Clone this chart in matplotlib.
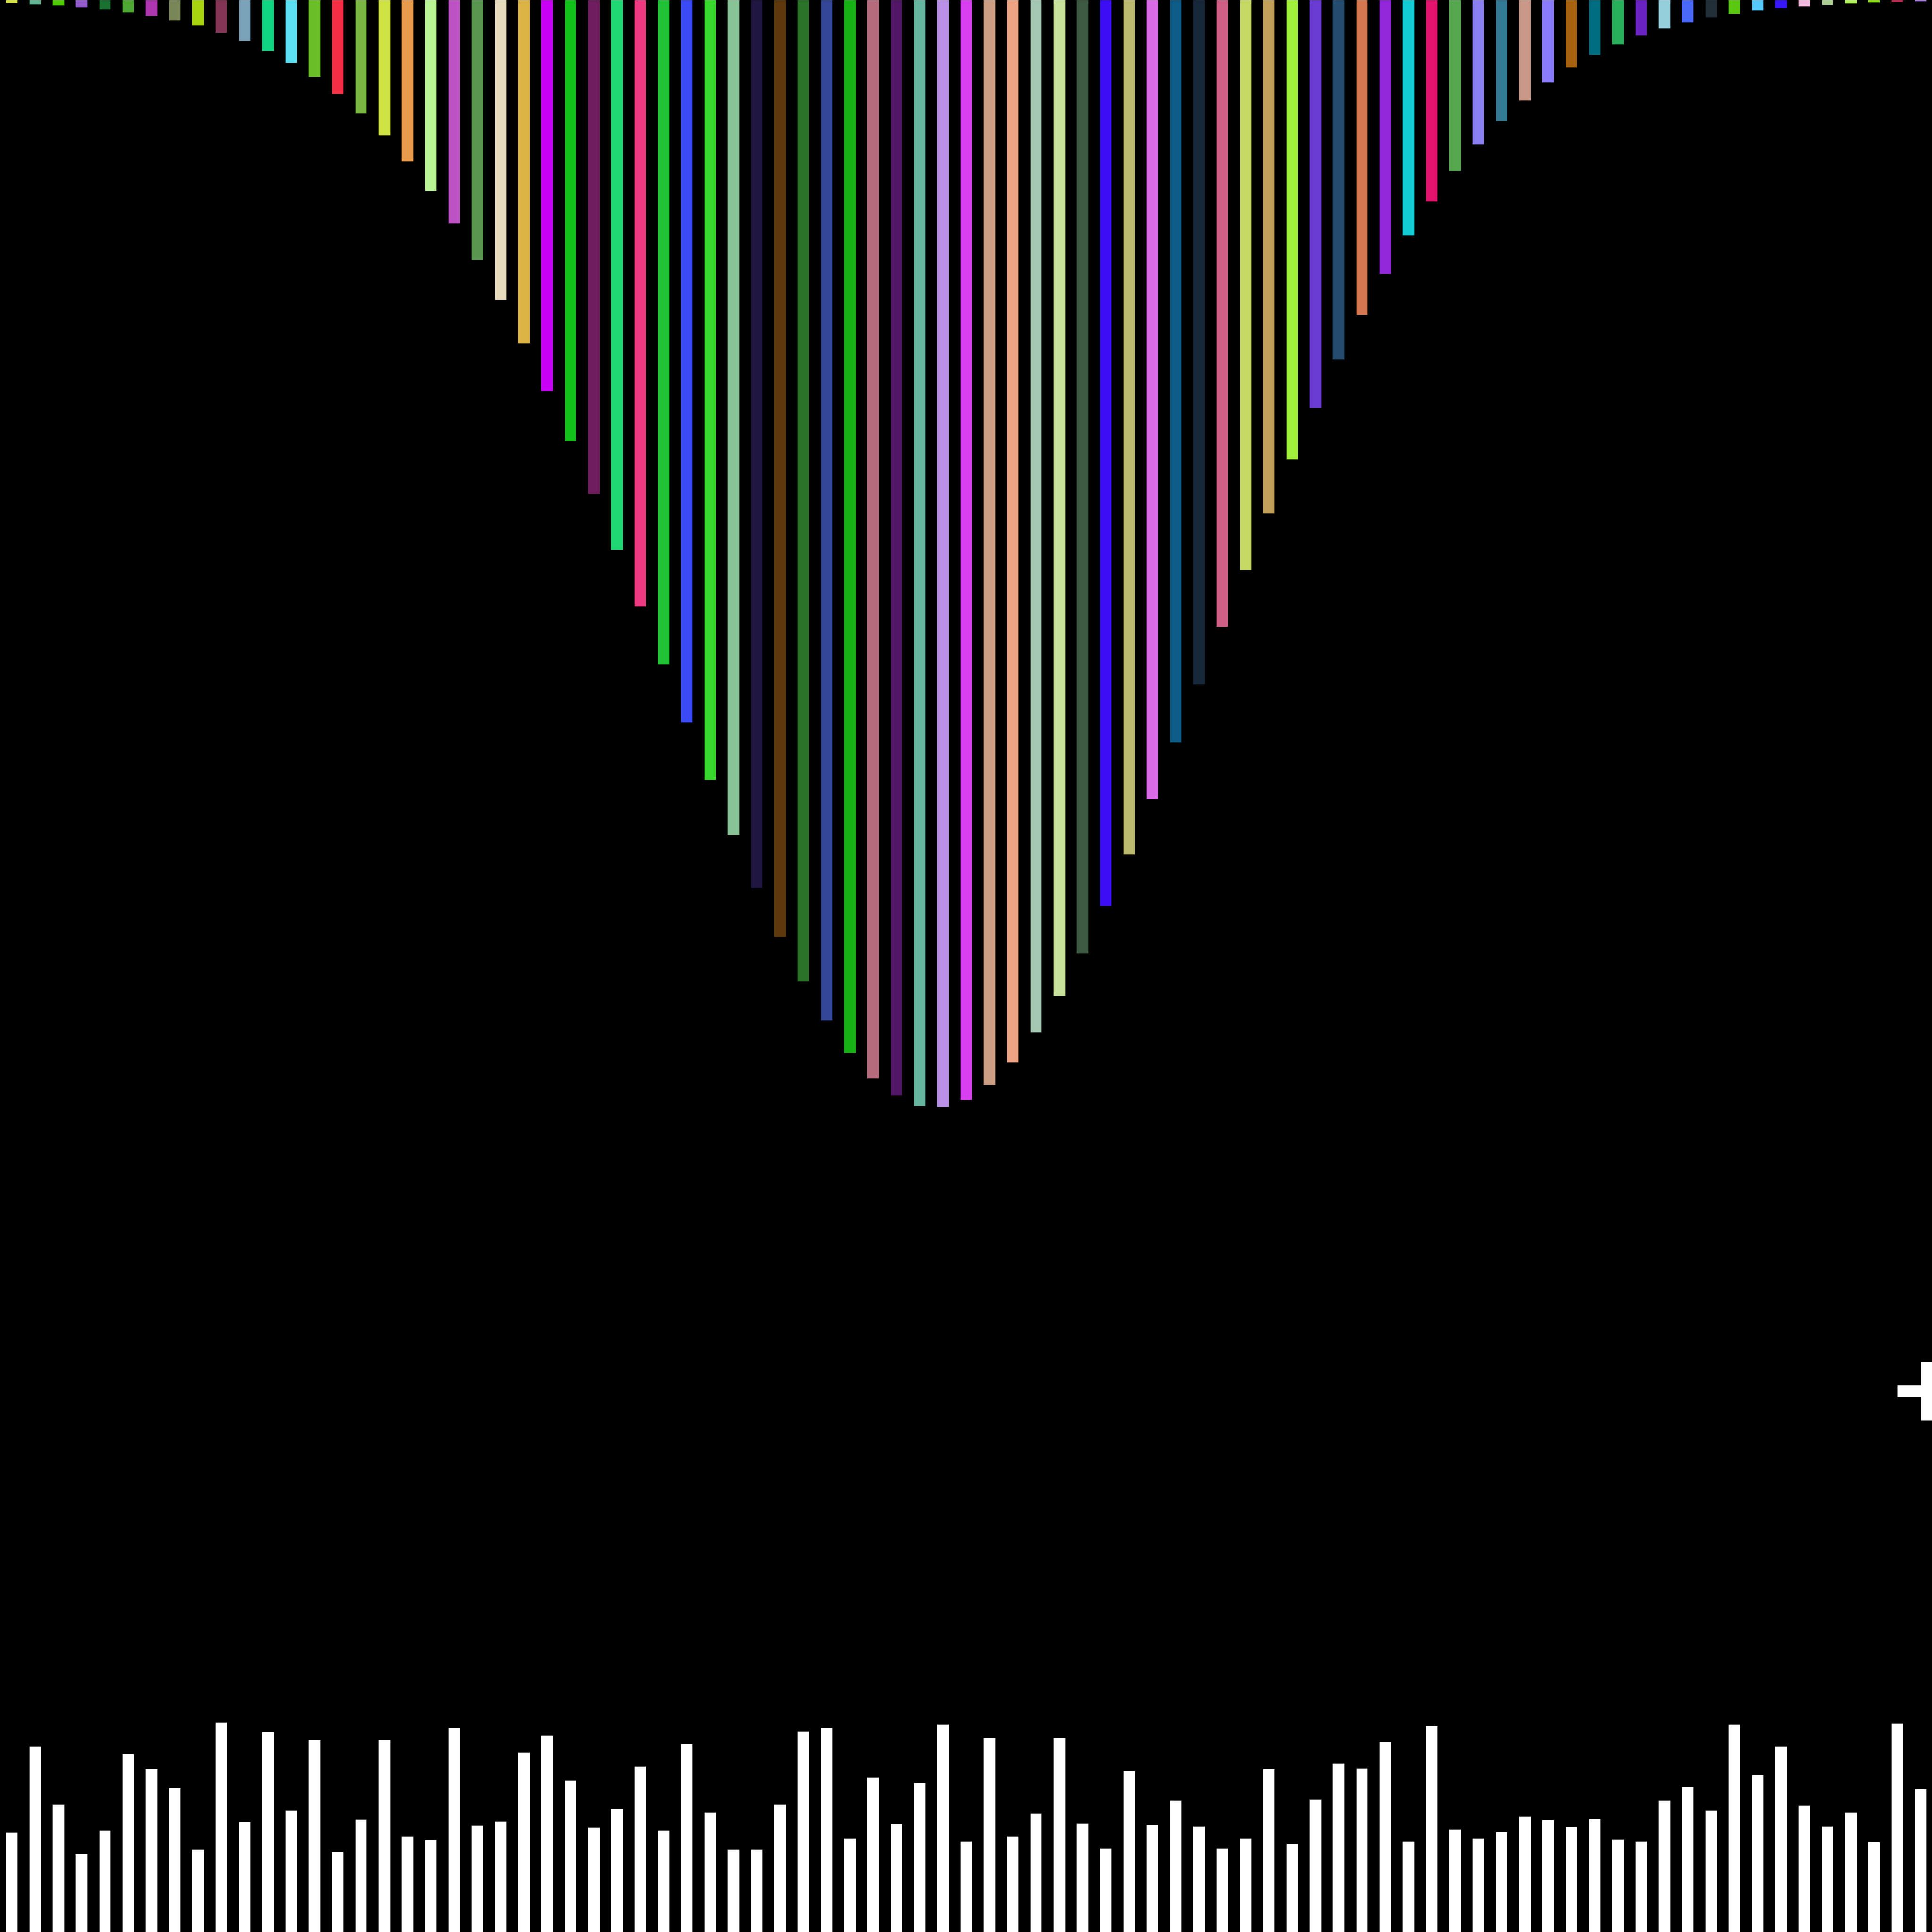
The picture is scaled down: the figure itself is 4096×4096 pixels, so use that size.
import matplotlib
matplotlib.use("Agg")
import matplotlib.pyplot as plt
import numpy as np

# hanging bars (depth from the top, % of figure height)
top_depth = [0.15, 0.21, 0.28, 0.37, 0.48, 0.63, 0.81, 1.04, 1.33, 1.68,
             2.11, 2.63, 3.25, 3.99, 4.85, 5.87, 7.01, 8.36, 9.86, 11.56,
             13.44, 15.50, 17.77, 20.23, 22.82, 25.56, 28.45, 31.38, 34.38, 37.39,
             40.35, 43.21, 45.95, 48.49, 50.79, 52.81, 54.48, 55.80, 56.69, 57.22,
             57.28, 56.93, 56.16, 54.98, 53.42, 51.53, 49.35, 46.87, 44.22, 41.36,
             38.43, 35.43, 32.45, 29.48, 26.56, 23.78, 21.10, 18.61, 16.29, 14.15,
             12.19, 10.42, 8.85, 7.46, 6.24, 5.19, 4.26, 3.49, 2.84, 2.29,
             1.83, 1.46, 1.15, 0.90, 0.70, 0.54, 0.41, 0.31, 0.24, 0.18,
             0.13, 0.09, 0.07]

top_colors = ['#d4e23a', '#61b591', '#52cc06', '#925ccc', '#1a7132', '#4ea833', '#ae37b0', '#788658',
              '#a7d40f', '#843555', '#7aa2b8', '#10d684', '#5ee0f3', '#6abf28', '#f42f43', '#7ab644',
              '#d0e345', '#e89b4a', '#b9f594', '#bd52c3', '#5a9650', '#e6dcbd', '#dcb446', '#c800f5',
              '#12c21a', '#6f1d5e', '#1fd873', '#ee3a80', '#22c236', '#3a4af5', '#38d92c', '#87c397',
              '#1f1741', '#5e390e', '#2a7328', '#334697', '#17b015', '#b56b7c', '#511766', '#65b59f',
              '#b991e8', '#d83ff0', '#cc9e84', '#eca485', '#a3c7b1', '#c8e29c', '#3e5a42', '#3b0ef5',
              '#bcb970', '#d86ae5', '#0e5d88', '#16283a', '#cf5f84', '#c7d965', '#c1a05a', '#a0f03c',
              '#6b3cd4', '#244c6e', '#d57851', '#9328da', '#12cbd4', '#e3136e', '#55a74e', '#8a80f2',
              '#337a96', '#c99888', '#8a7cfc', '#a5630f', '#006e80', '#28b15a', '#6a22c0', '#96cfdc',
              '#4a69f7', '#222e38', '#5ac710', '#55c8fe', '#3718fa', '#f0b8dc', '#acd093', '#b2f35c',
              '#88dd05', '#cd2350', '#a87ae8']

# white bars standing on the bottom edge
bottom_height = [5.14, 9.61, 6.61, 4.06, 5.28, 9.23, 8.45, 7.47, 4.28, 10.86,
                 5.72, 10.35, 6.31, 9.93, 4.16, 5.83, 9.96, 4.96, 4.75, 10.58,
                 5.52, 5.73, 9.29, 10.19, 7.87, 5.42, 6.37, 8.58, 5.27, 9.73,
                 6.20, 4.27, 4.27, 6.61, 10.39, 10.56, 4.86, 8.00, 5.61, 7.72,
                 10.73, 4.68, 10.07, 4.96, 6.15, 10.06, 5.65, 4.35, 8.34, 5.53,
                 6.80, 5.48, 4.34, 4.86, 8.44, 4.56, 6.87, 8.74, 8.48, 9.85,
                 4.69, 10.66, 5.32, 4.86, 5.17, 5.98, 5.82, 5.45, 5.86, 4.82,
                 4.69, 6.80, 7.52, 6.29, 10.75, 8.13, 9.63, 6.56, 5.48, 6.20,
                 4.67, 10.81, 7.42]

# the lone plus sign on the right edge
plus_x = 82.25
plus_y = 28.0

FULL = 100.0
x = np.arange(len(top_depth))
depth = np.array(top_depth)

fig = plt.figure(figsize=(40.96, 40.96), dpi=100, facecolor='black')
ax = fig.add_axes([0, 0, 1, 1])
ax.set_facecolor('black')

ax.bar(x, depth, bottom=FULL - depth, width=0.5, color=top_colors,
       edgecolor=(0, 0, 0, 0.35), linewidth=0.7)
ax.bar(x, bottom_height, width=0.5, color='white',
       edgecolor=(0, 0, 0, 0.35), linewidth=0.7)

ax.plot([plus_x], [plus_y], marker='+', color='white', markersize=88.6,
        markeredgewidth=17.7, linestyle='none', clip_on=False)

ax.set_xlim(-0.5, len(x) - 0.5)
ax.set_ylim(0, FULL)
ax.axis('off')

plt.savefig('out.png', dpi=100, facecolor='black')
